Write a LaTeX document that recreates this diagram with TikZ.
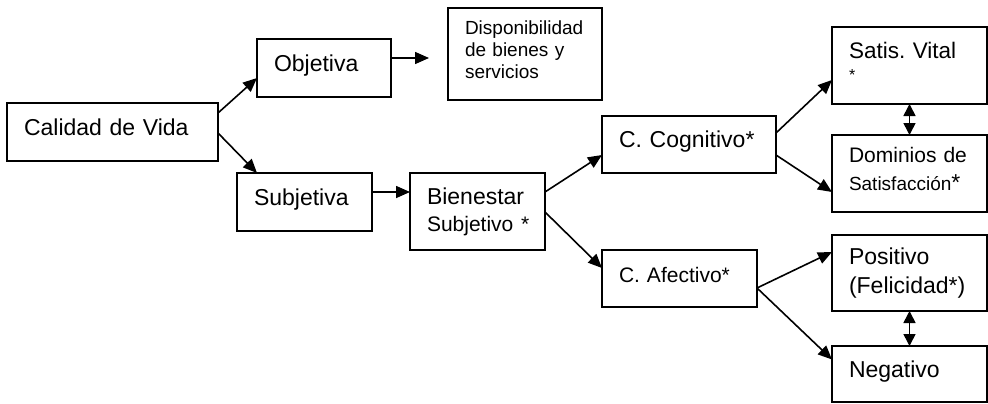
\documentclass[tikz,border=0pt]{standalone}
\usepackage{fontspec}
\setmainfont{Liberation Sans}
\usetikzlibrary{arrows.meta}
\begin{document}
\begin{tikzpicture}[x=1pt,y=-1pt,
  box/.style={draw, line width=1.6pt, inner xsep=17pt, inner ysep=0pt, outer sep=0pt,
    align=left, anchor=north west},
  one/.style={text height=16.5pt, text depth=10pt},
  big/.style={font=\fontsize{23}{27}\selectfont},
  arr/.style={line width=1.6pt, -{Triangle[length=14pt,width=12pt]}},
  dbl/.style={line width=1.6pt, {Triangle[length=12pt,width=12pt]}-{Triangle[length=12pt,width=12pt]}}]
\useasboundingbox (0,0) rectangle (988,404);

\node[box, one, big, minimum width=211pt, minimum height=58pt, text width=177pt] (calidad) at (7,103) {Calidad de Vida};
\node[box, one, big, minimum width=134pt, minimum height=58pt, text width=100pt] (objetiva) at (257,39) {Objetiva};
\node[box, one, big, minimum width=135pt, minimum height=58pt, text width=101pt] (subjetiva) at (237,173) {Subjetiva};
\node[box, font=\fontsize{19}{21.7}\selectfont, text depth=52.4pt, minimum width=154pt, minimum height=92pt, text width=120pt] (dispon) at (448,8) {Disponibilidad\\de bienes y\\servicios};
\node[box, big, minimum width=135pt, minimum height=77pt, text width=101pt] (bienestar) at (410,173) {Bienestar\\\fontsize{21}{25}\selectfont Subjetivo~*};
\node[box, one, big, minimum width=174pt, minimum height=57pt, text width=140pt] (ccog) at (602,116) {C.~Cognitivo*};
\node[box, font=\fontsize{22.5}{22}\selectfont, text depth=31pt, minimum width=155pt, minimum height=77pt, text width=121pt] (satis) at (832,27) {Satis.~Vital\\\fontsize{16}{22}\selectfont *};
\node[box, font=\fontsize{21}{28}\selectfont, text depth=37.5pt, minimum width=155pt, minimum height=77pt, text width=121pt] (dominios) at (832,135) {Dominios~de\\\fontsize{19}{28}\selectfont Satisfacción\fontsize{23}{28}\selectfont*};
\node[box, font=\fontsize{21}{25}\selectfont, text height=15pt, text depth=7pt, minimum width=155pt, minimum height=57pt, text width=121pt] (cafec) at (602,250) {C.~Afectivo*};
\node[box, font=\fontsize{23}{29}\selectfont, minimum width=155pt, minimum height=76pt, text width=121pt] (positivo) at (832,235) {Positivo\\(Felicidad*)};
\node[box, one, big, minimum width=155pt, minimum height=56pt, text width=121pt] (negativo) at (832,346) {Negativo};

\coordinate (dispin) at (429,58);

\draw[arr] ([yshift=19pt]calidad.east) -- ([yshift=-10pt]objetiva.west);
\draw[arr] ([yshift=-1pt]calidad.east) -- ([xshift=-47.5pt]subjetiva.north);
\draw[arr] ([yshift=10pt]objetiva.east) -- (dispin);
\draw[arr] ([yshift=10pt]subjetiva.east) -- ([yshift=19.5pt]bienestar.west);
\draw[arr] ([yshift=19.5pt]bienestar.east) -- ([yshift=-10.5pt]ccog.west);
\draw[arr] ([yshift=-0.5pt]bienestar.east) -- ([yshift=10.5pt]cafec.west);
\draw[arr] ([yshift=11.5pt]ccog.east) -- ([yshift=-14.5pt]satis.west);
\draw[arr] ([yshift=-10.5pt]ccog.east) -- ([yshift=-18.5pt]dominios.west);
\draw[dbl] (satis.south) -- (dominios.north);
\draw[arr] ([yshift=-9.5pt]cafec.east) -- ([yshift=21pt]positivo.west);
\draw[arr] ([yshift=-9.5pt]cafec.east) -- ([yshift=14.5pt]negativo.west);
\draw[dbl] (positivo.south) -- (negativo.north);
\end{tikzpicture}
\end{document}
